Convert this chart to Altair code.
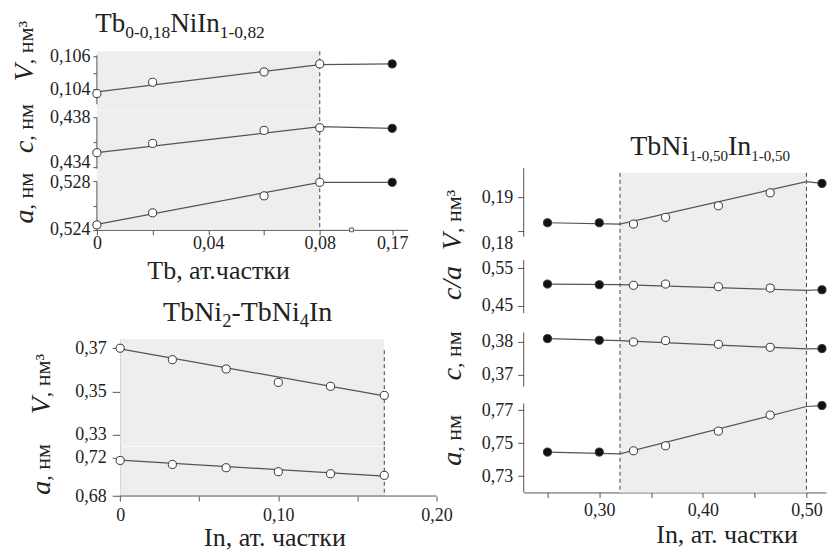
import altair as alt
import pandas as pd

FONT = "Liberation Serif"
TXT = "#222222"
AX = "#555555"
LINE = "#555555"
BG = "#eeeeee"
DASH = "#444444"

# ---------------- data ----------------
# Tb(0-0.18)NiIn(1-0.82)
tb_x = [0, 0.02, 0.06, 0.08, 0.17]
tb_filled = [False, False, False, False, True]
tb_V = [0.10376, 0.10444, 0.10506, 0.10554, 0.10554]
tb_c = [0.43514, 0.43590, 0.43696, 0.43718, 0.43713]
tb_a = [0.52441, 0.52541, 0.52682, 0.52794, 0.52794]
tb_fit_x = [0, 0.08, 0.17]
tb_fit_V = [0.10386, 0.10550, 0.10554]
tb_fit_c = [0.43514, 0.43727, 0.43713]
tb_fit_a = [0.52446, 0.52794, 0.52794]
tb_break_pos = 0.106          # plotted position of 0.17 on the broken axis
tb_break_mark = 0.0914        # where the axis break symbol sits
tb_xticks = [0, 0.02, 0.04, 0.06, 0.08, 0.106]
tb_xlabels = ["0", "", "0,04", "", "0,08", "0,17"]

# TbNi2 - TbNi4In
in_x = [0, 0.033, 0.067, 0.100, 0.133, 0.167]
in_filled = [False] * 6
in_V = [0.3700, 0.3647, 0.3604, 0.3542, 0.3524, 0.3482]
in_a = [0.7172, 0.7130, 0.7096, 0.7054, 0.7033, 0.7016]
in_fit_x = [0, 0.167]
in_fit_V = [0.3697, 0.3480]
in_fit_a = [0.7176, 0.7009]

# TbNi(1-0.50)In(1-0.50)
r_x = [0.25, 0.30, 0.333, 0.364, 0.415, 0.465, 0.515]
r_filled = [True, True, False, False, False, False, True]
r_V = [0.18244, 0.18244, 0.18206, 0.18403, 0.18744, 0.19126, 0.19403]
r_ca = [0.5079, 0.5061, 0.5045, 0.5079, 0.5007, 0.4972, 0.4926]
r_c = [0.3809, 0.3804, 0.3799, 0.3803, 0.3792, 0.3783, 0.3779]
r_a = [0.74455, 0.74455, 0.74533, 0.74836, 0.75727, 0.76700, 0.77279]
r_fit_x = [0.25, 0.32, 0.50, 0.515]
r_fit_V = [0.18244, 0.18206, 0.19456, 0.19403]
r_fit_ca = [0.5079, 0.5061, 0.4910, 0.4926]
r_fit_c = [0.3809, 0.3803, 0.3778, 0.3779]
r_fit_a = [0.74455, 0.74350, 0.77220, 0.77279]

# ---------------- helpers ----------------
WID = {'T': 611, 'b': 500, 'N': 722, 'i': 278, 'I': 333, 'n': 500, '-': 333, ',': 250}


def tw(s, size):
    return sum(WID.get(ch, 500) for ch in s) * size / 1000.0


def lab_expr(vals, labs):
    e = "''"
    for v, l in reversed(list(zip(vals, labs))):
        e = f"(abs(datum.value - ({v})) < 1e-6 ? '{l}' : {e})"
    return e


def one():
    return pd.DataFrame({'d': [0]})


def text_layer(txt, x, y, size, italic=False, angle=0, align='left', baseline='alphabetic'):
    kw = dict(text=txt, font=FONT, fontSize=size, color=TXT, align=align, baseline=baseline)
    if italic:
        kw['fontStyle'] = 'italic'
    if angle:
        kw['angle'] = angle
    return alt.Chart(one()).mark_text(**kw).encode(x=alt.value(x), y=alt.value(y))


def rich_title(pieces, x0, y0, S, s, dy):
    out = []
    x = x0
    for t, sub in pieces:
        size = s if sub else S
        out.append(text_layer(t, x, y0 + (dy if sub else 0), size))
        x += tw(t, size)
    return out


def ytitle(letter, rest, x, y, ls=28, rs=22):
    return [text_layer(letter, x, y, ls, italic=True, angle=270, align='right'),
            text_layer(rest, x, y, rs, angle=270, align='left')]


def ghost(x, y):
    return alt.Chart(one()).mark_rule(opacity=0).encode(
        x=alt.value(x), x2=alt.value(x + 1), y=alt.value(y), y2=alt.value(y + 1))


def yax(vals, labs, tick, pad, domain=False, **kw):
    return alt.Axis(values=vals, labelExpr=lab_expr(vals, labs), tickSize=tick,
                    labelPadding=pad, domain=domain, title=None, grid=False, **kw)


def xax(vals, labs, tick, pad, title, tx, ty, domain=True):
    return alt.Axis(values=vals, labelExpr=lab_expr(vals, labs), tickSize=tick,
                    labelPadding=pad, title=title, titleX=tx, titleY=ty, domain=domain,
                    titleAlign='center', titleBaseline='alphabetic', grid=False,
                    labelFlush=False, labelOverlap=False)


def panel(w, h, xdom, ydom, pts, fit, xaxis, yaxis, shade=None, dashes=(), yline=None,
          xline=None, brk=None, shade_top=0, dash_top=0, extra=()):
    xs = alt.Scale(domain=xdom, nice=False, zero=False)
    ys = alt.Scale(domain=ydom, nice=False, zero=False)
    X = alt.X('x:Q', scale=xs, axis=xaxis)
    Y = alt.Y('y:Q', scale=ys, axis=yaxis)
    L = []
    if shade is not None:
        L.append(alt.Chart(pd.DataFrame({'x': [shade[0]], 'x2': [shade[1]]}))
                 .mark_rect(color=BG).encode(x=X, x2='x2:Q', y=alt.value(shade_top), y2=alt.value(h)))
    if dashes:
        L.append(alt.Chart(pd.DataFrame({'x': list(dashes)}))
                 .mark_rule(color=DASH, strokeDash=[4, 3], strokeWidth=1)
                 .encode(x=X, y=alt.value(dash_top), y2=alt.value(h)))
    if yline is not None:
        L.append(alt.Chart(pd.DataFrame({'y': [yline[0]], 'y2': [yline[1]]}))
                 .mark_rule(color=AX, strokeWidth=1).encode(x=alt.value(0), y=Y, y2='y2:Q'))
    if xline is not None:
        L.append(alt.Chart(pd.DataFrame({'x': [xline[0]], 'x2': [xline[1]]}))
                 .mark_rule(color=AX, strokeWidth=1).encode(x=X, x2='x2:Q', y=alt.value(h)))
    L.append(alt.Chart(fit).mark_line(color=LINE, strokeWidth=1.2).encode(x=X, y=Y))
    L.append(alt.Chart(pts).mark_circle(size=66, stroke='#333333', strokeWidth=1, opacity=1)
             .encode(x=X, y=Y, fill=alt.condition('datum.f', alt.value('#111111'), alt.value('white'))))
    if brk is not None:
        L.append(alt.Chart(pd.DataFrame({'x': [brk[0]], 'y': [brk[1]]}))
                 .mark_point(shape='square', size=14, filled=True, fill='white', stroke=AX,
                             strokeWidth=1, opacity=1)
                 .encode(x=X, y=Y))
    L.extend(extra)
    return alt.layer(*L).properties(width=w, height=h)


def pts_df(x, y, f):
    return pd.DataFrame({'x': x, 'y': y, 'f': f})


def fit_df(x, y):
    return pd.DataFrame({'x': x, 'y': y})


def tbpos(v):
    return v if v <= 0.1 else tb_break_pos


tb_px = [tbpos(v) for v in tb_x]
tb_fpx = [tbpos(v) for v in tb_fit_x]

# ---------------- top-left panel ----------------
TLW = 311
TLX = [0, 0.1115]
tl_title = rich_title([("Tb", False), ("0-0,18", True), ("NiIn", False), ("1-0,82", True)],
                      -1.7, -19, 27, 17.5, 6)

TL_V = panel(TLW, 58.5, TLX, [0.10279, 0.10630], pts_df(tb_px, tb_V, tb_filled),
             fit_df(tb_fpx, tb_fit_V), None,
             yax([0.104, 0.105, 0.106], ['0,104', '', '0,106'], 4, 3),
             shade=(0, 0.08), dashes=(0.08,), yline=(0.10312, 0.10606),
             extra=tl_title + ytitle('V', ', нм³', -64, 13) + [ghost(0, -43), ghost(-88.7, 20)])
TL_c = panel(TLW, 64, TLX, [0.43339, 0.43861], pts_df(tb_px, tb_c, tb_filled),
             fit_df(tb_fpx, tb_fit_c), None,
             yax([0.434, 0.436, 0.438], ['0,434', '', '0,438'], 4, 3,
                 labelOffset={'condition': {'test': 'datum.value < 0.435', 'value': -4}, 'value': 0}),
             shade=(0, 0.08), dashes=(0.08,), yline=(0.43384, 0.438),
             extra=ytitle('c', ', нм', -64, 30.5))
TL_a = panel(TLW, 55.8, TLX, [0.524, 0.52862], pts_df(tb_px, tb_a, tb_filled),
             fit_df(tb_fpx, tb_fit_a),
             xax(tb_xticks, tb_xlabels, 5, 0, 'Tb, ат.частки', 121.3, 48.7),
             yax([0.524, 0.526, 0.528], ['0,524', '', '0,528'], 4, 3,
                 labelOffset={'condition': {'test': 'datum.value > 0.527', 'value': 1}, 'value': 0}),
             shade=(0, 0.08), dashes=(0.08,), yline=(0.524, 0.528),
             brk=(tb_break_mark, 0.524),
             extra=ytitle('a', ', нм', -64, 35.5) + [ghost(0, 111.5)])

# ---------------- bottom-left panel ----------------
SH = 23.3                      # its y axis sits this far right of the top panel's
BLW = 340
BLX = [-0.01472, 0.2]
bl_title = rich_title([("TbNi", False), ("2", True), ("-TbNi", False), ("4", True), ("In", False)],
                      43 + SH, -17.7, 28, 18.5, 6)
BL_V = panel(BLW, 107.3, BLX, [0.32478, 0.37429], pts_df(in_x, in_V, in_filled),
             fit_df(in_fit_x, in_fit_V), None,
             yax([0.33, 0.35, 0.37], ['0,33', '0,35', '0,37'], 8, 6, domain=True, offset=-SH),
             shade=(0, 0.167), dashes=(0.167,), dash_top=11.3,
             extra=bl_title + ytitle('V', ', нм³', -70 + SH, 58.3) + [ghost(SH, -51.7)])
BL_a = panel(BLW, 49.3, BLX, [0.68, 0.73146], pts_df(in_x, in_a, in_filled),
             fit_df(in_fit_x, in_fit_a),
             xax([0, 0.05, 0.1, 0.15, 0.2], ['0', '', '0,10', '', '0,20'], 5, 5,
                 'In, ат. частки', 154.5 + SH, 50, domain=False),
             yax([0.68, 0.72], ['0,68', '0,72'], 8, 6, domain=True, offset=-SH),
             shade=(0, 0.167), dashes=(0.167,), xline=(0, 0.2),
             extra=ytitle('a', ', нм', -70 + SH, 34) + [ghost(334 + SH, 10)])

# ---------------- right panel ----------------
RW = 302.7
RX = [0.227, 0.5189]
r_title = rich_title([("TbNi", False), ("1-0,50", True), ("In", False), ("1-0,50", True)],
                     106.7, 104, 28, 15, 6)
R_T = alt.layer(*(r_title + [ghost(-95, 20)])).properties(width=RW, height=117)
R_V = panel(RW, 80, RX, [0.1750, 0.19853], pts_df(r_x, r_V, r_filled), fit_df(r_fit_x, r_fit_V), None,
            yax([0.18, 0.19], ['0,18', '0,19'], 6, 5,
                labelOffset={'condition': {'test': 'datum.value < 0.185', 'value': 12}, 'value': 0}),
            shade=(0.32, 0.50), dashes=(0.32, 0.50), yline=(0.17832, 0.19853),
            shade_top=4.7, dash_top=4.7,
            extra=ytitle('V', ', нм³', -62.3, 65))
R_ca = panel(RW, 75, RX, [0.40362, 0.60442], pts_df(r_x, r_ca, r_filled), fit_df(r_fit_x, r_fit_ca), None,
             yax([0.45, 0.55], ['0,45', '0,55'], 6, 5),
             shade=(0.32, 0.50), dashes=(0.32, 0.50), yline=(0.42962, 0.57225),
             extra=[text_layer('c/a', -62.3, 35, 28, italic=True, angle=270, align='center')])
R_c = panel(RW, 72, RX, [0.364, 0.38561], pts_df(r_x, r_c, r_filled), fit_df(r_fit_x, r_fit_c), None,
            yax([0.37, 0.38], ['0,37', '0,38'], 6, 5),
            shade=(0.32, 0.50), dashes=(0.32, 0.50), yline=(0.3665, 0.3827),
            extra=ytitle('c', ', нм', -62.3, 45))
R_a = panel(RW, 97.7, RX, [0.72006, 0.77927], pts_df(r_x, r_a, r_filled), fit_df(r_fit_x, r_fit_a),
            xax([0.25, 0.30, 0.35, 0.40, 0.45, 0.50], ['', '0,30', '', '0,40', '', '0,50'], 5, 4,
                'In, ат. частки', 203.2, 50.3),
            yax([0.73, 0.75, 0.77], ['0,73', '0,75', '0,77'], 6, 5),
            shade=(0.32, 0.50), dashes=(0.32, 0.50), yline=(0.72006, 0.77406),
            extra=ytitle('a', ', нм', -62.3, 57))

# ---------------- layout ----------------
TL = alt.vconcat(TL_V, TL_c, TL_a, spacing=0, bounds='flush')
BL = alt.vconcat(BL_V, BL_a, spacing=0, bounds='flush')
left = alt.concat(TL, BL, columns=1, spacing=0, align='none')
RIGHT = alt.vconcat(R_T, R_V, R_ca, R_c, R_a, spacing=0, bounds='flush')

chart = alt.hconcat(left, RIGHT, spacing=-26.7).properties(padding=0)
chart = (chart.configure(font=FONT, background='white')
         .configure_view(stroke=None)
         .configure_axis(labelFont=FONT, labelFontSize=18, labelColor=TXT,
                         titleFont=FONT, titleFontSize=26, titleColor=TXT, titleFontWeight='normal',
                         domainColor=AX, tickColor=AX, grid=False))

chart.save("out.html", embed_options={"renderer": "svg", "actions": False})
